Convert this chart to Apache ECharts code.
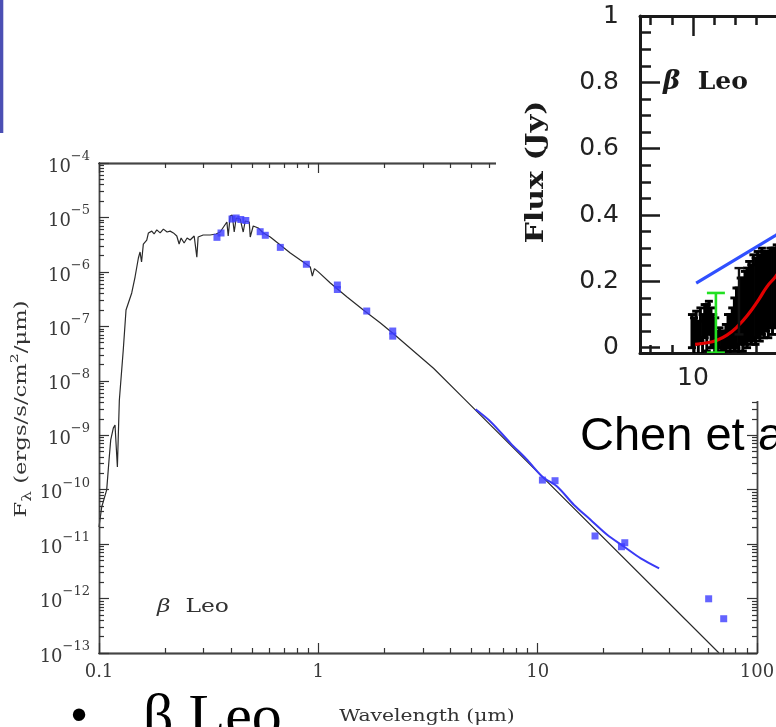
<!DOCTYPE html>
<html><head><meta charset="utf-8">
<script src="https://cdn.jsdelivr.net/npm/echarts@6/dist/echarts.min.js"></script>
<style>html,body{margin:0;padding:0;background:#fff;overflow:hidden}#c{width:776px;height:727px}</style>
</head><body><div id="c"></div>
<script>
// ---- main SED (log-log) ----
const modelWave = [0.1,0.1029,0.1084,0.1111,0.1131,0.1162,0.1183,0.1213,0.1238,0.129,0.1328,0.141,0.146,0.1512,0.1539,0.1563,0.1593,0.1651,0.168,0.174,0.1783,0.1834,0.19,0.1966,0.2044,0.211,0.2184,0.2263,0.2319,0.2368,0.2444,0.2522,0.2603,0.2716,0.2793,0.2831,0.2985,0.3212,0.342,0.3568,0.3829,0.3882,0.3964,0.4049,0.4135,0.4222,0.4404,0.4545,0.4642,0.4842,0.4893,0.5048,0.5321,0.561,0.6037,0.6708,0.745,0.8276,0.919,0.939,0.96,1.0,1.134,1.352,1.605,1.919,2.2,3.35,4.59,67.1];
const modelFlux = [2.06e-11,4.8e-11,9.9e-11,3.5e-10,8.2e-10,1.35e-9,1.54e-9,2.6e-10,4.4e-9,3.67e-8,2.0e-7,4.1e-7,8.05e-7,1.8e-6,2.32e-6,1.52e-6,3.25e-6,3.85e-6,5.2e-6,5.6e-6,4.97e-6,5.9e-6,5.2e-6,6.1e-6,5.4e-6,5.6e-6,5.2e-6,4.56e-6,3.25e-6,4.19e-6,3.39e-6,4.19e-6,3.85e-6,4.56e-6,1.87e-6,4.37e-6,4.76e-6,4.76e-6,4.97e-6,5.4e-6,8.24e-6,4.56e-6,1.06e-5,1.11e-5,5.4e-6,9.77e-6,9.35e-6,5.4e-6,8.6e-6,8.24e-6,4.37e-6,6.97e-6,6.4e-6,5.18e-6,4.37e-6,3.12e-6,2.22e-6,1.65e-6,1.23e-6,8.4e-7,1.15e-6,1.0e-6,6.25e-7,3.46e-7,2.0e-7,1.15e-7,7.3e-8,1.7e-8,4.8e-9,1.0e-13];
const photWave = [0.345,0.36,0.404,0.422,0.443,0.467,0.543,0.573,0.671,0.882,1.221,1.221,1.662,2.184,2.184,10.51,12.0,18.26,24.1,24.96,60.2,70.5];
const photFlux = [4.31e-6,5.18e-6,9.35e-6,9.77e-6,9.16e-6,8.79e-6,5.47e-6,4.7e-6,2.82e-6,1.38e-6,5.74e-7,4.75e-7,1.91e-7,8.2e-8,6.6e-8,1.5e-10,1.46e-10,1.41e-11,8.95e-12,1.06e-11,9.9e-13,4.26e-13];
const irsWave = [5.21,6.10,7.53,8.97,10.51,12.3,14.65,17.46,20.8,24.8,29.5,35.8];
const irsFlux = [2.99e-9,1.77e-9,7.1e-10,3.51e-10,1.73e-10,1.13e-10,5.23e-11,2.77e-11,1.47e-11,8.95e-12,5.48e-12,3.59e-12];
const xTickLabels = [0.1, 1, 10, 100];
const yTickExponents = [-13,-12,-11,-10,-9,-8,-7,-6,-5,-4];

// ---- inset (Chen et al.) ----
const insetWave = [9.95,10.05,10.15,10.25,10.35,10.45,10.55,10.65,10.75,10.85,10.95,11.05,11.15,11.25,11.35,11.45,11.55,11.65,11.75,11.85,11.95,12.05,12.15,12.25,12.35,12.45,12.55,12.65,12.75,12.85,12.95,13.05,13.15,13.25,13.35,13.45,13.55,13.65,13.75,13.85,13.95];
const insetFlux = [0.05,0.03,0.06,0.03,0.07,0.04,0.08,0.06,0.09,0.06,0.05,0.05,0.02,0.03,0.02,0.02,0.03,0.05,0.04,0.06,0.07,0.09,0.08,0.11,0.10,0.12,0.12,0.14,0.13,0.15,0.14,0.16,0.15,0.17,0.16,0.17,0.16,0.18,0.17,0.18,0.19];
const insetErr = [0.05,0.06,0.05,0.05,0.05,0.06,0.05,0.07,0.05,0.06,0.05,0.04,0.03,0.03,0.03,0.03,0.04,0.05,0.06,0.06,0.08,0.09,0.10,0.10,0.11,0.11,0.12,0.12,0.12,0.13,0.13,0.13,0.13,0.13,0.13,0.12,0.13,0.12,0.13,0.12,0.12];
const insetRedWave = [10.1,10.6,11.1,11.6,12.1,12.6,13.1,13.5,13.9,14.5,15.5];
const insetRedFlux = [0.010,0.014,0.022,0.038,0.064,0.10,0.145,0.185,0.215,0.27,0.35];
const insetBlueWave = [10.15,13.9,16];
const insetBlueFlux = [0.195,0.339,0.42];
const greenBar = [11.08, 0.075, 0.09];
const blackBar = [12.17, 0.14, 0.10];
const insetYTicks = [0,0.2,0.4,0.6,0.8,1];
const insetYMinor = [0.05,0.1,0.15,0.25,0.3,0.35,0.45,0.5,0.55,0.65,0.7,0.75,0.85,0.9,0.95];
const insetXLabels = [10];
const insetXMinor = [8,9,11,12,13,14,16,17,18,19];
const insetXMajor = [10,15,20];

const zip = (a,b) => a.map((v,i)=>[v,b[i]]);
const lg = Math.log10;
function decadeTicks(lo, hi){ const a=[]; for(let n=lo;n<=hi;n++) a.push(n); return a; }
function minorTicks(lo, hi){ const a=[]; for(let n=lo;n<hi;n++) for(let k=2;k<=9;k++) a.push(+(n+lg(k)).toFixed(6)); return a; }

const AX = '#444';
const TK = '#333';
function mainX(pos, labels){
  return {type:'log', logBase:10, gridIndex:0, min:0.1, max:100, position:pos,
    axisLine:{show:true, onZero:false, lineStyle:{color:AX, width:1.3}},
    axisTick:{show:false}, minorTick:{show:false},
    splitLine:{show:false}, minorSplitLine:{show:false},
    axisLabel:{show:labels, margin:10, color:'#3a3a3a', fontFamily:'DejaVu Serif', fontSize:18,
      formatter: v => String(xTickLabels.find(t => Math.abs(lg(t)-lg(v))<1e-6) ?? v)},
    z:1};
}
function mainY(pos, labels){
  return {type:'log', logBase:10, gridIndex:0, min:1e-13, max:1e-4, position:pos,
    axisLine:{show:true, onZero:false, lineStyle:{color:AX, width:1.3}},
    axisTick:{show:false}, minorTick:{show:false},
    splitLine:{show:false}, minorSplitLine:{show:false},
    axisLabel:{show:labels, margin:9, color:'#3a3a3a',
      formatter: v => '{b|10}{s|\u2212' + Math.abs(Math.round(lg(v))) + '}',
      rich:{b:{fontFamily:'DejaVu Serif', fontSize:18, lineHeight:26, verticalAlign:'bottom', color:'#3a3a3a'},
            s:{fontFamily:'DejaVu Serif', fontSize:13, lineHeight:26, verticalAlign:'top', color:'#3a3a3a'}}},
    z:1};
}
function tickAxis(pos, lo, hi, ticks, len){
  return {type:'value', gridIndex:0, min:lo, max:hi, position:pos,
    axisLine:{show:true, onZero:false, lineStyle:{color:AX, width:1.3}},
    axisTick:{show:true, inside:true, length:len, customValues:ticks, lineStyle:{color:TK, width:1.2}},
    axisLabel:{show:false}, splitLine:{show:false}, z:6};
}
const IN = '#1a1a1a';
function insetX(pos, line, ticks, len, labels){
  return {type:'value', gridIndex:1, min:7.5, max:35, position:pos,
    axisLine:{show:line, onZero:false, lineStyle:{color:IN, width:3}},
    axisTick:{show:true, inside:true, length:len, customValues:ticks, lineStyle:{color:IN, width:2.5}},
    axisLabel:labels ? {show:true, customValues:labels, margin:13, fontFamily:'DejaVu Sans', fontSize:25, color:'#222'} : {show:false},
    splitLine:{show:false}, z:20};
}
function insetY(line, ticks, len, labels){
  return {type:'value', gridIndex:1, min:-0.016, max:1, position:'left',
    axisLine:{show:line, onZero:false, lineStyle:{color:IN, width:3}},
    axisTick:{show:true, inside:true, length:len, customValues:ticks, lineStyle:{color:IN, width:2.5}},
    axisLabel:labels ? {show:true, customValues:labels, margin:21, fontFamily:'DejaVu Sans', fontSize:25, color:'#222'} : {show:false},
    splitLine:{show:false}, z:20};
}
function errRender(capW, color, lw){
  return function(params, api){
    const x = api.value(0), y = api.value(1), e = api.value(2);
    const t = api.coord([x, y+e]), b = api.coord([x, y-e]);
    const st = {stroke:color, lineWidth:lw};
    return {type:'group', children:[
      {type:'line', shape:{x1:t[0], y1:t[1], x2:b[0], y2:b[1]}, style:st},
      {type:'line', shape:{x1:t[0]-capW/2, y1:t[1], x2:t[0]+capW/2, y2:t[1]}, style:st},
      {type:'line', shape:{x1:b[0]-capW/2, y1:b[1], x2:b[0]+capW/2, y2:b[1]}, style:st}
    ]};
  };
}

const xLo = Math.round(lg(xTickLabels[0])), xHi = Math.round(lg(xTickLabels[xTickLabels.length-1]));
const yLo = yTickExponents[0], yHi = yTickExponents[yTickExponents.length-1];

const chart = echarts.init(document.getElementById('c'), null, {renderer:'canvas'});
chart.setOption({
  animation:false,
  backgroundColor:'#fff',
  grid:[
    {left:99, top:163, width:658, height:490, containLabel:false, outerBoundsMode:'none'},
    {left:640, top:16, width:583, height:337, containLabel:false, outerBoundsMode:'none'}
  ],
  xAxis:[ mainX('bottom', true), mainX('top', false),
    insetX('bottom', true, insetXMinor, 8, insetXLabels),
    insetX('bottom', false, insetXMajor, 18, null),
    insetX('top', true, insetXMinor, 9, null),
    insetX('top', false, insetXMajor, 20, null),
    tickAxis('bottom', xLo, xHi, decadeTicks(xLo, xHi), 10),
    tickAxis('bottom', xLo, xHi, minorTicks(xLo, xHi), 5),
    tickAxis('top', xLo, xHi, decadeTicks(xLo, xHi), 10),
    tickAxis('top', xLo, xHi, minorTicks(xLo, xHi), 5) ],
  yAxis:[ mainY('left', true), mainY('right', false),
    insetY(true, insetYTicks, 20, insetYTicks),
    insetY(false, insetYMinor, 11, null),
    tickAxis('left', yLo, yHi, decadeTicks(yLo, yHi), 10),
    tickAxis('left', yLo, yHi, minorTicks(yLo, yHi), 5),
    tickAxis('right', yLo, yHi, decadeTicks(yLo, yHi), 10),
    tickAxis('right', yLo, yHi, minorTicks(yLo, yHi), 5) ],
  series:[
    {type:'line', xAxisIndex:0, yAxisIndex:0, data:zip(modelWave, modelFlux), showSymbol:false, symbol:'none',
      lineStyle:{color:'#2a2a2a', width:1.2}, z:3, clip:true},
    {type:'line', xAxisIndex:0, yAxisIndex:0, data:zip(irsWave, irsFlux), showSymbol:false, symbol:'none', smooth:0.3,
      lineStyle:{color:'#3a3af5', width:2}, z:4},
    {type:'scatter', xAxisIndex:0, yAxisIndex:0, data:zip(photWave, photFlux), symbol:'rect', symbolSize:7,
      itemStyle:{color:'#3c3cff'}, z:5},
    // inset
    {type:'custom', xAxisIndex:2, yAxisIndex:2, clip:true, z:21,
      data: insetWave.map((w,i)=>[w, insetFlux[i], insetErr[i]]), renderItem: errRender(8, '#000', 2.9)},
    {type:'line', xAxisIndex:2, yAxisIndex:2, data:zip(insetRedWave, insetRedFlux), smooth:true, symbol:'none',
      lineStyle:{color:'#e10000', width:3.2}, z:22, clip:true},
    {type:'line', xAxisIndex:2, yAxisIndex:2, data:zip(insetBlueWave, insetBlueFlux), symbol:'none',
      lineStyle:{color:'#3050ff', width:3.2}, z:22, clip:true},
    {type:'custom', xAxisIndex:2, yAxisIndex:2, clip:true, z:23, data:[blackBar], renderItem: errRender(9, '#111', 2.4)},
    {type:'custom', xAxisIndex:2, yAxisIndex:2, clip:true, z:24, data:[greenBar], renderItem: errRender(18, '#22e022', 2.6)}
  ],
  graphic:[
    {type:'rect', z:0, shape:{x:0, y:0, width:3.3, height:133}, style:{fill:'#4b4fb4'}},
    {type:'rect', z:10, shape:{x:496, y:0, width:280, height:401}, style:{fill:'#fff'}},
    {type:'text', z:12, x:157, y:607, scaleX:1.3,
      style:{text:'{i|\u03b2}{n|  Leo}', align:'left', verticalAlign:'middle',
        rich:{i:{fontFamily:'DejaVu Serif', fontStyle:'italic', fontSize:18, fill:'#333', color:'#333'},
              n:{fontFamily:'DejaVu Serif', fontSize:18, fill:'#333', color:'#333'}}}},
    {type:'text', z:12, x:427, y:717, scaleX:1.27,
      style:{text:'Wavelength (\u03bcm)', font:'16px "DejaVu Serif"', fill:'#333', align:'center', verticalAlign:'middle'}},
    {type:'text', z:12, x:22, y:409, rotation:Math.PI/2, scaleX:1.42,
      style:{text:'{n|F}{sub|\u03bb}{n| (ergs/s/cm}{sup|2}{n|/\u03bcm)}', align:'center', verticalAlign:'middle',
        rich:{n:{fontFamily:'DejaVu Serif', fontSize:16, lineHeight:24, verticalAlign:'middle', fill:'#333', color:'#333'},
              sub:{fontFamily:'DejaVu Serif', fontSize:12, lineHeight:24, verticalAlign:'bottom', fill:'#333', color:'#333'},
              sup:{fontFamily:'DejaVu Serif', fontSize:11, lineHeight:24, verticalAlign:'top', fill:'#333', color:'#333'}}}},
    {type:'text', z:30, x:537, y:172, rotation:Math.PI/2, scaleX:1.25,
      style:{text:'Flux (Jy)', font:'bold 24px "DejaVu Serif"', fill:'#1a1a1a', align:'center', verticalAlign:'middle'}},
    {type:'text', z:30, x:663, y:82,
      style:{text:'{i|\u03b2}{n|  Leo}', align:'left', verticalAlign:'middle',
        rich:{i:{fontFamily:'DejaVu Serif', fontStyle:'italic', fontWeight:'bold', fontSize:26, fill:'#1a1a1a', color:'#1a1a1a'},
              n:{fontFamily:'DejaVu Serif', fontWeight:'bold', fontSize:25, fill:'#1a1a1a', color:'#1a1a1a'}}}},
    {type:'text', z:30, x:580, y:437,
      style:{text:'Chen et al. 2006', font:'47px "Liberation Sans"', fill:'#000', align:'left', verticalAlign:'middle'}},
    {type:'text', z:30, x:79, y:717,
      style:{text:'\u2022', font:'46px "Liberation Sans"', fill:'#000', align:'center', verticalAlign:'middle'}},
    {type:'text', z:30, x:143, y:719,
      style:{text:'\u03b2 Leo', font:'60px "Liberation Serif"', fill:'#000', align:'left', verticalAlign:'middle'}}
  ]
});
</script></body></html>
